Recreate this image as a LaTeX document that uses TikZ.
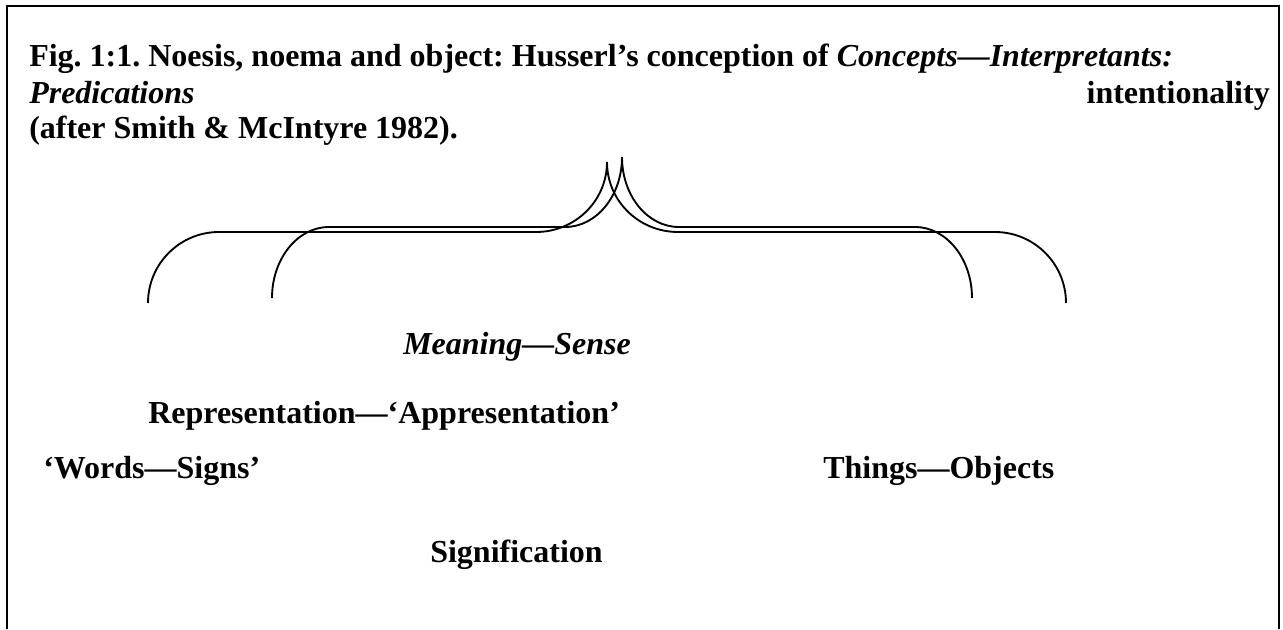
\documentclass[tikz,border=0pt]{standalone}
\usepackage{fontspec}
\setmainfont{Liberation Serif}
\frenchspacing
\begin{document}
\begin{tikzpicture}[x=0.75pt,y=-0.75pt,
  lbl/.style={anchor=base west,inner sep=0pt,font=\fontsize{24}{28}\selectfont\bfseries},
  frame/.style={line width=2pt},
  brace/.style={line width=1.4pt}]
\useasboundingbox (0,0) rectangle (1283,629);
\draw[frame] (7,629) -- (7,6) -- (1279,6) -- (1279,629);
% title
\node[lbl] (t1) at (29,66) {Fig. 1:1. Noesis, noema and object: Husserl’s conception of \textit{Concepts—Interpretants:}};
\node[lbl] (t2) at (29,103) {\textit{Predications}};
\node[lbl,anchor=base east] (t2b) at (1270,103) {intentionality};
\node[lbl] (t3) at (29,138) {(after Smith \& McIntyre 1982).};
% outer brace
\draw[brace] (148,303) .. controls (148,263.8) and (179.8,232) .. (219,232)
  -- (536,232) .. controls (575.2,232) and (607,200.8) .. (607,162)
  .. controls (607,200.8) and (638.8,232) .. (678,232)
  -- (995,232) .. controls (1034.2,232) and (1066,263.8) .. (1066,303);
% inner brace
\draw[brace] (272,298) .. controls (272,258.8) and (297.5,227) .. (329,227)
  -- (565,227) .. controls (596.5,227) and (622,195.8) .. (622,157)
  .. controls (622,195.8) and (647.5,227) .. (679,227)
  -- (915,227) .. controls (946.5,227) and (972,258.8) .. (972,298);
% labels
\node[lbl] (meaning) at (403,354) {\textit{Meaning—Sense}};
\node[lbl] (repr) at (148,423) {Representation—‘Appresentation’};
\node[lbl] (words) at (43,478) {‘Words—Signs’};
\node[lbl] (things) at (823,478) {Things—Objects};
\node[lbl] (signif) at (430,562) {Signification};
\end{tikzpicture}
\end{document}
